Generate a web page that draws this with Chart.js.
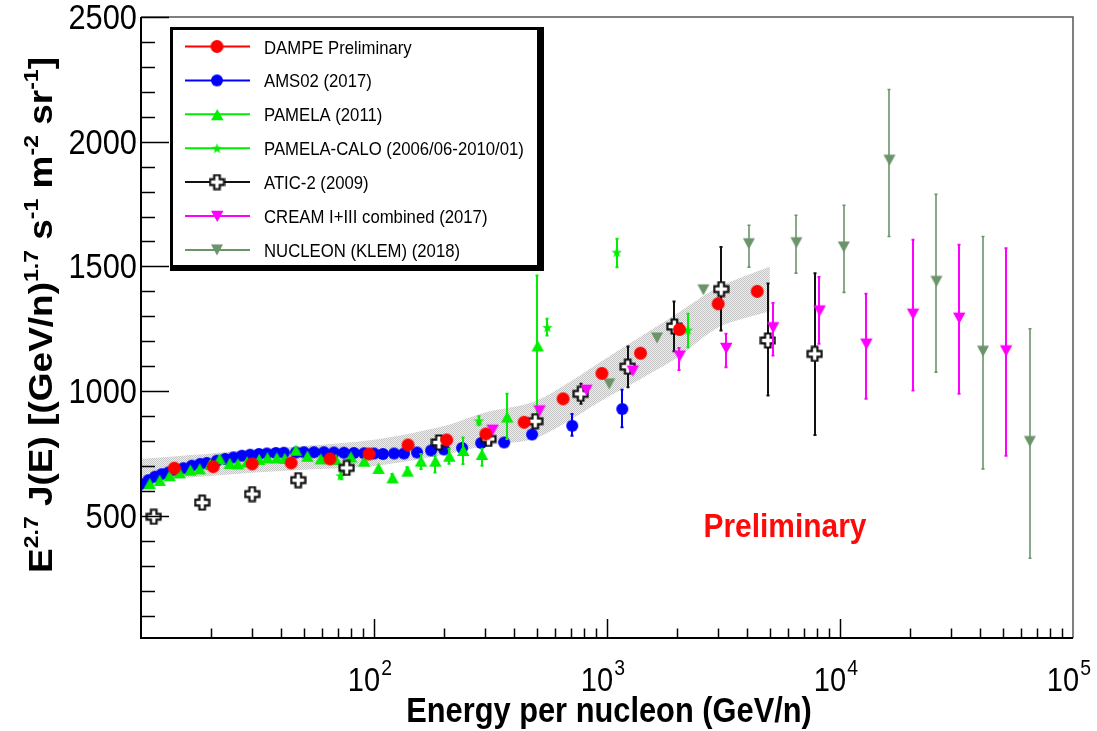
<!DOCTYPE html>
<html><head><meta charset="utf-8">
<script src="https://cdn.jsdelivr.net/npm/chart.js@4.4.1/dist/chart.umd.min.js"></script>
<style>html,body{margin:0;padding:0;background:#fff}#wrap{width:1097px;height:731px;position:relative}</style>
</head><body><div id="wrap"><canvas id="c"></canvas></div>
<script>
// ---------------- data ----------------
const dampeE = [13.9, 20.4, 30, 44.1, 64.7, 95.2, 140, 205, 302, 441, 648, 951, 1393, 2047, 3000, 4414];
const dampeV = [691, 697, 708, 712, 728, 748, 784, 804, 828, 875, 969, 1071, 1152, 1247, 1350, 1400];

const amsE = [9.97, 10.76, 11.48, 12.27, 13.11, 14.14, 15.21, 16.52, 17.93, 19.16, 21.15, 22.96, 24.94, 27.09, 29.4, 32.06, 34.69, 37.93, 41.03, 46.23, 50.03, 55.24, 60.97, 67.3, 74.3, 82.0, 90.6, 100, 109.3, 121.9, 134.5, 153, 175.8, 199.9, 238.8, 288.3, 362, 477, 709, 1163];
const amsV = [627, 643, 657, 667, 674, 683, 691, 701, 708, 712, 721, 728, 734, 741, 745, 748, 750, 752, 753, 754, 755, 755, 755, 754, 753, 752, 751, 750, 748, 750, 750, 754, 762, 766, 772, 792, 794, 826, 861, 928];
const amsHi = [null, null, null, null, null, null, null, null, null, null, null, null, null, null, null, null, null, null, null, null, null, null, null, null, null, null, null, null, null, null, null, null, null, null, null, null, 805, 842, 908, 1005];
const amsLo = [null, null, null, null, null, null, null, null, null, null, null, null, null, null, null, null, null, null, null, null, null, null, null, null, null, null, null, null, null, null, null, null, null, null, null, null, 783, 810, 821, 855];

const pamE = [10.87, 12.0, 13.24, 14.62, 16.25, 17.82, 19.79, 21.72, 23.98, 25.96, 28.45, 32.06, 34.8, 38.2, 41.3, 46.1, 51.7, 59.0, 68.4, 79.4, 90.6, 104.4, 119.9, 139, 158.7, 183, 210, 241, 290, 372, 503];
const pamV = [631, 644, 663, 674, 685, 690, 708, 730, 712, 710, 718, 728, 734, 734, 732, 765, 741, 730, 728, 738, 721, 692, 654, 681, 721, 721, 741, 764, 748, 898, 1183];
const pamHi = [null, null, null, null, null, null, null, null, null, null, null, null, null, null, null, null, null, null, null, null, null, null, 668, 695, 748, 741, 769, 814, 769, 989, 1464];
const pamLo = [null, null, null, null, null, null, null, null, null, null, null, null, null, null, null, null, null, null, null, null, null, null, 640, 667, 688, 674, 709, 708, 701, 808, 895];

const caloE = [71.9, 282, 555, 1101, 2221];
const caloV = [661, 881, 1256, 1557, 1245];
const caloHi = [675, 899, 1290, 1611, 1310];
const caloLo = [647, 863, 1223, 1497, 1176];

const aticE = [11.34, 18.3, 30.0, 47.3, 76.3, 190, 310, 492, 771, 1227, 1945, 3092, 4900, 7785];
const aticV = [496, 553, 587, 643, 692, 794, 808, 879, 989, 1098, 1259, 1409, 1203, 1149];
const aticHi = [null, null, null, null, null, null, 830, 905, 1029, 1179, 1359, 1578, 1431, 1473];
const aticLo = [null, null, null, null, null, null, 786, 853, 949, 1015, 1160, 1243, 982, 824];

const creamE = [322, 512, 814, 1287, 2047, 3240, 5150, 8160, 12950, 20530, 32400, 51500];
const creamV = [845, 922, 1005, 1082, 1142, 1173, 1256, 1323, 1190, 1310, 1294, 1163];
const creamHi = [null, null, null, null, 1173, 1230, 1353, 1457, 1390, 1607, 1587, 1573];
const creamLo = [null, null, null, null, 1085, 1096, 1143, 1190, 969, 1002, 989, 741];

const nucE = [1023, 1640, 2592, 4063, 6500, 10380, 16300, 25950, 41100, 65300];
const nucV = [1029, 1213, 1406, 1591, 1595, 1578, 1926, 1440, 1160, 798];
const nucHi = [null, null, null, 1665, 1705, 1745, 2209, 1789, 1620, 1250];
const nucLo = [null, null, null, 1497, 1473, 1396, 1620, 1076, 688, 330];

const bandE  = [10, 20, 30, 50, 100, 200, 300, 500, 1000, 2000, 3000, 5000];
const bandHi = [728, 750, 765, 780, 805, 860, 914, 962, 1134, 1311, 1416, 1500];
const bandLo = [640, 660, 673, 685, 700, 745, 781, 813, 974, 1134, 1255, 1320];

const yMajorTicks = [500, 1000, 1500, 2000, 2500];
const yTickLabels = ['500', '1000', '1500', '2000', '2500'];
const xMajorTicks = [100, 1000, 10000, 100000];
const xTickExp = ['2', '3', '4', '5'];

const seriesLabels = ['DAMPE Preliminary', 'AMS02 (2017)', 'PAMELA (2011)', 'PAMELA-CALO (2006/06-2010/01)', 'ATIC-2 (2009)', 'CREAM I+III combined (2017)', 'NUCLEON (KLEM) (2018)'];

// ---------------- markers ----------------
function mk(size, draw) {
  const c = document.createElement('canvas');
  c.width = size; c.height = size;
  const g = c.getContext('2d');
  draw(g, size);
  return c;
}
function circleM(color, d) {
  return mk(d + 2, (g, s) => { g.fillStyle = color; g.beginPath(); g.arc(s / 2, s / 2, d / 2, 0, Math.PI * 2); g.fill(); });
}
function triM(color, w, down) {
  return mk(w + 2, (g, s) => {
    const h = w * 0.9, cx = s / 2, cy = s / 2;
    g.fillStyle = color; g.beginPath();
    if (down) { g.moveTo(cx - w / 2, cy - h / 2); g.lineTo(cx + w / 2, cy - h / 2); g.lineTo(cx, cy + h / 2); }
    else { g.moveTo(cx - w / 2, cy + h / 2); g.lineTo(cx + w / 2, cy + h / 2); g.lineTo(cx, cy - h / 2); }
    g.closePath(); g.fill();
  });
}
function starM(color, d) {
  return mk(d + 2, (g, s) => {
    const cx = s / 2, cy = s / 2 + 0.5, R = d / 2, r = R * 0.42;
    g.fillStyle = color; g.beginPath();
    for (let i = 0; i < 10; i++) {
      const a = -Math.PI / 2 + i * Math.PI / 5, rr = i % 2 ? r : R;
      const px = cx + rr * Math.cos(a), py = cy + rr * Math.sin(a);
      i ? g.lineTo(px, py) : g.moveTo(px, py);
    }
    g.closePath(); g.fill();
  });
}
function crossM(d) {
  return mk(d + 3, (g, s) => {
    const c = s / 2, a = d / 2, b = d * 0.2;
    g.beginPath();
    g.moveTo(c - b, c - a); g.lineTo(c + b, c - a); g.lineTo(c + b, c - b); g.lineTo(c + a, c - b);
    g.lineTo(c + a, c + b); g.lineTo(c + b, c + b); g.lineTo(c + b, c + a); g.lineTo(c - b, c + a);
    g.lineTo(c - b, c + b); g.lineTo(c - a, c + b); g.lineTo(c - a, c - b); g.lineTo(c - b, c - b); g.closePath();
    g.fillStyle = '#fff'; g.fill(); g.lineWidth = 2.2; g.strokeStyle = '#111'; g.stroke();
  });
}
const COL = { dampe: '#ff0000', ams: '#0000ff', pam: '#00ee00', calo: '#00ee00', atic: '#111111', cream: '#ff00ff', nuc: '#6b946b' };
const M = {
  dampe: circleM(COL.dampe, 13), ams: circleM(COL.ams, 12), pam: triM(COL.pam, 12.5, false),
  calo: starM(COL.calo, 11), atic: crossM(14), cream: triM(COL.cream, 12.5, true), nuc: triM(COL.nuc, 12, true)
};

function pts(xs, ys) { return xs.map((x, i) => ({ x: x, y: ys[i] })); }

// band pattern (light checkered grey)
const pc = document.createElement('canvas'); pc.width = 2; pc.height = 2;
const pg = pc.getContext('2d'); pg.fillStyle = '#eeeeee'; pg.fillRect(0, 0, 2, 2);
pg.fillStyle = '#c4c4c4'; pg.fillRect(0, 0, 1, 1); pg.fillRect(1, 1, 1, 1);
const mainCanvas = document.getElementById('c');
const bandPattern = mainCanvas.getContext('2d').createPattern(pc, 'repeat');

function ds(label, xs, ys, key, hi, lo, errW) {
  return { label: label, data: pts(xs, ys), pointStyle: M[key], pointRadius: 7, showLine: false,
    errHi: hi, errLo: lo, errColor: COL[key], errW: errW || 2, markerKey: key };
}
const datasets = [
  ds(seriesLabels[0], dampeE, dampeV, 'dampe'),
  ds(seriesLabels[5], creamE, creamV, 'cream', creamHi, creamLo, 2),
  ds(seriesLabels[4], aticE, aticV, 'atic', aticHi, aticLo, 2),
  ds(seriesLabels[3], caloE, caloV, 'calo', caloHi, caloLo, 2),
  ds(seriesLabels[2], pamE, pamV, 'pam', pamHi, pamLo, 2),
  ds(seriesLabels[1], amsE, amsV, 'ams', amsHi, amsLo, 2),
  ds(seriesLabels[6], nucE, nucV, 'nuc', nucHi, nucLo, 1.6),
  { label: 'bandHi', data: pts(bandE, bandHi), showLine: true, borderWidth: 0, borderColor: 'rgba(0,0,0,0)', pointRadius: 0, fill: '+1', tension: 0.3, backgroundColor: bandPattern },
  { label: 'bandLo', data: pts(bandE, bandLo), showLine: true, borderWidth: 0, borderColor: 'rgba(0,0,0,0)', pointRadius: 0, fill: false, tension: 0.3 }
];

const legendOrder = [
  { label: seriesLabels[0], key: 'dampe' }, { label: seriesLabels[1], key: 'ams' }, { label: seriesLabels[2], key: 'pam' },
  { label: seriesLabels[3], key: 'calo' }, { label: seriesLabels[4], key: 'atic' }, { label: seriesLabels[5], key: 'cream' },
  { label: seriesLabels[6], key: 'nuc' }
];

// ---------------- text helpers ----------------
const CX = 0.88;
function txt(ctx, s, x, y, font, align, color, base) {
  ctx.save(); ctx.font = font; ctx.fillStyle = color || '#000'; ctx.textBaseline = base || 'alphabetic';
  const w = ctx.measureText(s).width * CX;
  let x0 = x; if (align === 'right') x0 = x - w; else if (align === 'center') x0 = x - w / 2;
  ctx.translate(x0, y); ctx.scale(CX, 1); ctx.textAlign = 'left'; ctx.fillText(s, 0, 0); ctx.restore();
  return w;
}

const errorBars = {
  id: 'errorBars',
  beforeDatasetDraw(chart, args) {
    const d = chart.data.datasets[args.index];
    if (!d.errHi) return;
    const ctx = chart.ctx, xs = chart.scales.x, ys = chart.scales.y;
    ctx.save(); ctx.strokeStyle = d.errColor; ctx.lineWidth = d.errW;
    d.data.forEach((p, i) => {
      if (d.errHi[i] == null) return;
      const px = Math.round(xs.getPixelForValue(p.x));
      const y1 = ys.getPixelForValue(d.errHi[i]), y2 = ys.getPixelForValue(d.errLo[i]);
      ctx.beginPath(); ctx.moveTo(px, y1); ctx.lineTo(px, y2); ctx.stroke();
      ctx.beginPath(); ctx.moveTo(px - 1.5, y1); ctx.lineTo(px + 1.5, y1); ctx.moveTo(px - 1.5, y2); ctx.lineTo(px + 1.5, y2); ctx.stroke();
    });
    ctx.restore();
  }
};

const frame = {
  id: 'frame',
  afterDatasetsDraw(chart) {
    const ctx = chart.ctx, a = chart.chartArea, xs = chart.scales.x, ys = chart.scales.y;
    ctx.save();
    // frame
    ctx.strokeStyle = '#555'; ctx.lineWidth = 1.5;
    ctx.beginPath(); ctx.moveTo(a.left, a.top); ctx.lineTo(a.right, a.top); ctx.lineTo(a.right, a.bottom); ctx.stroke();
    ctx.strokeStyle = '#000'; ctx.lineWidth = 2;
    ctx.beginPath(); ctx.moveTo(a.left, a.top); ctx.lineTo(a.left, a.bottom); ctx.lineTo(a.right, a.bottom); ctx.stroke();
    // y ticks
    ctx.lineWidth = 1.5;
    for (let v = 100; v <= 2500; v += 100) {
      if (v < ys.min) continue;
      const py = Math.round(ys.getPixelForValue(v)) + 0.5;
      const L = yMajorTicks.includes(v) ? 28 : 14;
      ctx.beginPath(); ctx.moveTo(a.left, py); ctx.lineTo(a.left + L, py); ctx.stroke();
    }
    // x ticks
    for (let dec = 10; dec < 100000; dec *= 10) {
      for (let m = 1; m <= 9; m++) {
        const v = dec * m; if (v <= xs.min || v >= xs.max) continue;
        const px = Math.round(xs.getPixelForValue(v)) + 0.5;
        const L = m === 1 ? 19 : 9.5;
        ctx.beginPath(); ctx.moveTo(px, a.bottom); ctx.lineTo(px, a.bottom - L); ctx.stroke();
      }
    }
    // y labels
    yMajorTicks.forEach((v, i) => {
      txt(ctx, yTickLabels[i], a.left - 4, ys.getPixelForValue(v) + 12, '35px "Liberation Sans", Arial, sans-serif', 'right');
    });
    // x labels
    xMajorTicks.forEach((v, i) => {
      const px = xs.getPixelForValue(v);
      const w1 = txt(ctx, '10', px - 10, 691, '33px "Liberation Sans", Arial, sans-serif', 'center');
      txt(ctx, xTickExp[i], px - 10 + w1 / 2 + 1, 675, '22px "Liberation Sans", Arial, sans-serif', 'left');
    });
    // x title
    txt(ctx, 'Energy per nucleon (GeV/n)', 609, 722, 'bold 35px "Liberation Sans", Arial, sans-serif', 'center');
    // Preliminary
    txt(ctx, 'Preliminary', 785, 537, 'bold 34px "Liberation Sans", Arial, sans-serif', 'center', '#ff0a0a');
    // y title
    const parts = [['E', 0], ['2.7', 1], [' J(E) [(GeV/n)', 0], ['1.7', 1], [' s', 0], ['-1', 1], [' m', 0], ['-2', 1], [' sr', 0], ['-1', 1], [']', 0]];
    const F = 37, FS = 23;
    ctx.save();
    ctx.translate(52, 315); ctx.rotate(-Math.PI / 2); ctx.scale(1, CX);
    let tot = 0;
    parts.forEach(p => { ctx.font = 'bold ' + (p[1] ? FS : F) + 'px "Liberation Sans", Arial, sans-serif'; tot += ctx.measureText(p[0]).width; });
    let cx = -tot / 2; ctx.fillStyle = '#000';
    parts.forEach(p => {
      ctx.font = 'bold ' + (p[1] ? FS : F) + 'px "Liberation Sans", Arial, sans-serif';
      ctx.fillText(p[0], cx, p[1] ? -16 : 0);
      cx += ctx.measureText(p[0]).width;
    });
    ctx.restore();
    // legend
    ctx.fillStyle = '#000'; ctx.fillRect(170, 27, 374, 244);
    ctx.fillStyle = '#fff'; ctx.fillRect(173, 30, 364, 235);
    legendOrder.forEach((it, i) => {
      const y = 46.5 + i * 33.9;
      ctx.strokeStyle = COL[it.key]; ctx.lineWidth = 2;
      ctx.beginPath(); ctx.moveTo(185, y); ctx.lineTo(250, y); ctx.stroke();
      const im = M[it.key]; ctx.drawImage(im, 217 - im.width / 2, y - im.height / 2);
      txt(ctx, it.label, 264, y + 7, '19px "Liberation Sans", Arial, sans-serif', 'left');
    });
    ctx.restore();
  }
};

new Chart(mainCanvas, {
  type: 'scatter',
  data: { datasets: datasets },
  options: {
    responsive: true, maintainAspectRatio: false, animation: false,
    layout: { padding: { left: 141, right: 24, top: 17, bottom: 93 } },
    scales: {
      x: { type: 'logarithmic', min: 10, max: 100000, display: false },
      y: { type: 'linear', min: 10, max: 2500, display: false }
    },
    plugins: { legend: { display: false }, tooltip: { enabled: false }, filler: { propagate: false } }
  },
  plugins: [errorBars, frame]
});
</script>
</body></html>
